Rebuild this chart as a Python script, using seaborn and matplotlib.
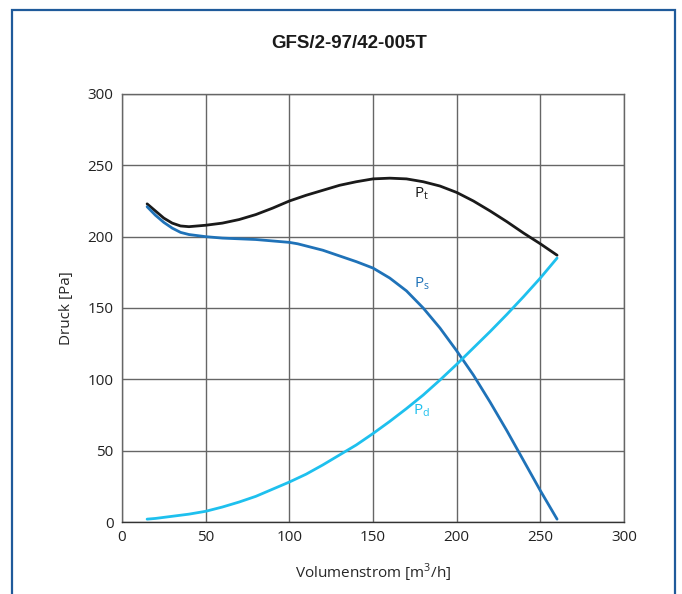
import numpy as np
import pandas as pd
import seaborn as sns
import matplotlib.pyplot as plt
from matplotlib.patches import Rectangle

# values
q_pt = [15, 20, 25, 30, 35, 40, 45, 50, 60, 70, 80, 90, 100, 110, 120, 130,
        140, 150, 160, 170, 180, 190, 200, 210, 220, 230, 240, 250, 260]
p_t = [223, 218, 213, 209.5, 207.5, 207, 207.5, 208, 209.5, 212, 215.5, 220,
       225, 229, 232.5, 236, 238.5, 240.5, 241, 240.5, 238.5, 235.5, 231, 225,
       218, 210.5, 202.5, 195, 187]

q_ps = [15, 20, 25, 30, 35, 40, 50, 60, 70, 80, 90, 100, 105, 110, 120, 130,
        140, 150, 160, 170, 180, 190, 200, 210, 220, 230, 240, 250, 260]
p_s = [221, 215, 210, 206, 203, 201.5, 200, 199, 198.5, 198, 197, 196, 195,
       193.5, 190.5, 186.5, 182.5, 178, 171, 162, 150, 136, 120, 103, 84, 64,
       43, 22, 2]

q_pd = [15, 20, 30, 40, 50, 60, 70, 80, 90, 100, 110, 120, 130, 140, 150, 160,
        170, 180, 190, 200, 210, 220, 230, 240, 250, 260]
p_d = [2, 2.5, 4, 5.5, 7.5, 10.5, 14, 18, 23, 28, 33.5, 40, 47, 54, 62, 70.5,
       79.5, 89, 99.5, 110.5, 122, 133.5, 145.5, 158, 171, 185]

x_ticks = [0, 50, 100, 150, 200, 250, 300]
y_ticks = [0, 50, 100, 150, 200, 250, 300]

c_pt = '#1a1a1a'
c_ps = '#1f72b8'
c_pd = '#1ec0ee'

sns.set_style('white')
plt.rcParams['font.family'] = ['Open Sans', 'DejaVu Sans']
plt.rcParams['mathtext.fontset'] = 'custom'
plt.rcParams['mathtext.rm'] = 'Open Sans'

fig = plt.figure(figsize=(6.82, 5.94), dpi=100)
ax = fig.add_axes([122 / 682, 1 - 522 / 594, 502 / 682, 428 / 594])

df = pd.concat([
    pd.DataFrame({'q': q_pt, 'p': p_t, 'kurve': 'Pt'}),
    pd.DataFrame({'q': q_ps, 'p': p_s, 'kurve': 'Ps'}),
    pd.DataFrame({'q': q_pd, 'p': p_d, 'kurve': 'Pd'}),
])

for name, col in [('Pt', c_pt), ('Ps', c_ps), ('Pd', c_pd)]:
    sub = df[df['kurve'] == name]
    sns.lineplot(data=sub, x='q', y='p', ax=ax, color=col, lw=2.0,
                 sort=False, estimator=None, legend=False, zorder=3)

ax.set_xlim(0, 300)
ax.set_ylim(0, 300)
ax.set_xticks(x_ticks)
ax.set_yticks(y_ticks)
ax.grid(True, color='#666666', lw=1.0)
for s in ax.spines.values():
    s.set_color('#666666')
    s.set_linewidth(1.0)
ax.spines['bottom'].set_color('#333333')
ax.tick_params(length=0, labelsize=11, colors='#222222', pad=6)

ax.set_xlabel('Volumenstrom [m$^3$/h]', fontsize=11, labelpad=12)
ax.set_ylabel('Druck [Pa]', fontsize=11, labelpad=10)

ax.text(179, 230, r'P$_\mathrm{t}$', color=c_pt, fontsize=11, ha='center', va='center')
ax.text(179, 167, r'P$_\mathrm{s}$', color=c_ps, fontsize=11, ha='center', va='center')
ax.text(179, 78, r'P$_\mathrm{d}$', color=c_pd, fontsize=11, ha='center', va='center')

fig.text(349 / 682, 1 - 43 / 594, 'GFS/2-97/42-005T', ha='center', va='center',
         fontsize=13.5, fontweight='bold', family=['Liberation Sans', 'DejaVu Sans'],
         color='#1a1a1a')

# blue frame around the chart
fig.patches.append(Rectangle((12 / 682, -0.1), (675 - 12) / 682, 1.1 - 10 / 594,
                             transform=fig.transFigure, fill=False,
                             edgecolor='#1f5a9a', lw=1.6, clip_on=False))

fig.savefig('out.png', dpi=100)
